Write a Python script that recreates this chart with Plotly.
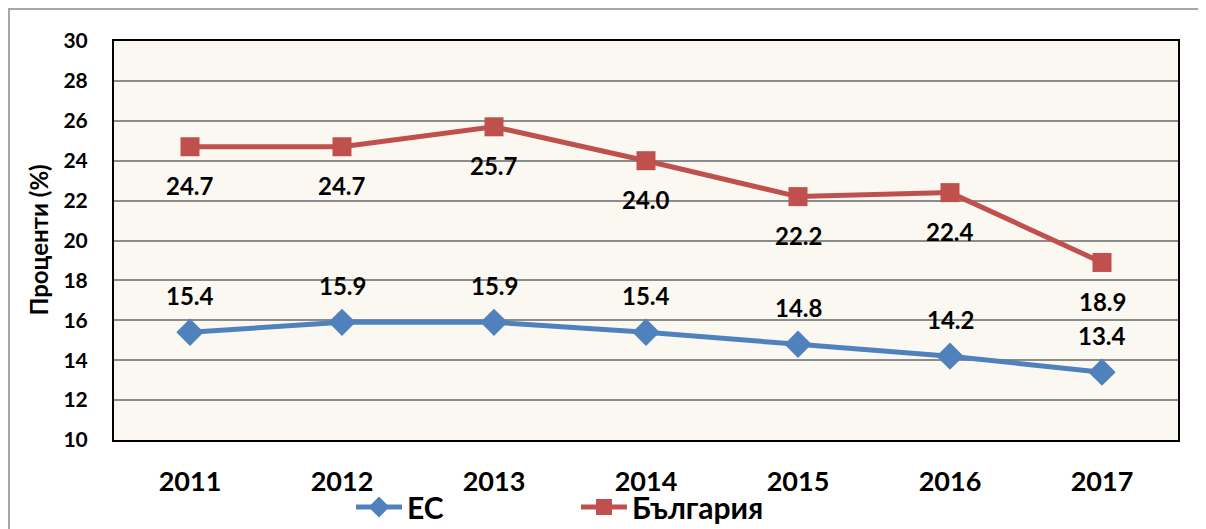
import plotly.graph_objects as go

years = ["2011", "2012", "2013", "2014", "2015", "2016", "2017"]
eu_values = [15.4, 15.9, 15.9, 15.4, 14.8, 14.2, 13.4]
bg_values = [24.7, 24.7, 25.7, 24.0, 22.2, 22.4, 18.9]
eu_name = "ЕС"
bg_name = "България"
y_title = "Проценти (%)"

FONT = "Lato"
RED = "#C0504D"
BLUE = "#4F81BD"

fig = go.Figure()
fig.add_trace(go.Scatter(
    x=years, y=eu_values, name=eu_name, mode="lines+markers",
    line=dict(color=BLUE, width=5),
    marker=dict(symbol="diamond", size=21, color=BLUE),
))
fig.add_trace(go.Scatter(
    x=years, y=bg_values, name=bg_name, mode="lines+markers",
    line=dict(color=RED, width=5),
    marker=dict(symbol="square", size=19, color=RED),
))

annotations = []
for i, v in enumerate(eu_values):
    annotations.append(dict(x=i, y=v, xref="x", yref="y", text=f"{v:.1f}", showarrow=False,
                            yshift=37, font=dict(family=FONT, size=24, color="black", weight="bold")))
for i, v in enumerate(bg_values):
    annotations.append(dict(x=i, y=v, xref="x", yref="y", text=f"{v:.1f}", showarrow=False,
                            yshift=-39, font=dict(family=FONT, size=24, color="black", weight="bold")))
annotations.append(dict(xref="paper", yref="paper", x=-0.0714, y=0.5, text=y_title,
                        textangle=-90, showarrow=False, xanchor="center", yanchor="middle",
                        font=dict(family=FONT, size=24, color="black", weight="bold")))

fig.update_layout(
    width=1198, height=521,
    margin=dict(l=106, r=28, t=33, b=89, autoexpand=False),
    paper_bgcolor="white",
    plot_bgcolor="#FBF8F2",
    font=dict(family=FONT, color="black"),
    showlegend=True,
    legend=dict(orientation="h", xref="container", yref="container",
                x=0.2863, y=0.0422, xanchor="left", yanchor="middle",
                entrywidth=164, entrywidthmode="pixels",
                font=dict(family=FONT, size=30, color="black", weight="bold"),
                bgcolor="rgba(0,0,0,0)", itemwidth=46, tracegroupgap=0),
    annotations=annotations,
    shapes=[dict(type="rect", xref="paper", yref="paper",
                 x0=-0.0987, x1=1.1, y0=-0.4, y1=1.0802,
                 line=dict(color="#A6A6A6", width=2), layer="below")],
)
fig.update_xaxes(
    type="category", range=[-0.5, 6.5], automargin=False,
    showgrid=False, showline=True, linecolor="black", linewidth=2, mirror=True,
    ticks="", ticklabelstandoff=17,
    tickfont=dict(family=FONT, size=27, color="black", weight="bold"),
)
fig.update_yaxes(
    range=[10, 30], dtick=2, tick0=10, automargin=False,
    showgrid=True, gridcolor="#8C8C8C", gridwidth=2,
    showline=True, linecolor="black", linewidth=2, mirror=True,
    ticks="", ticklabelstandoff=20, zeroline=False,
    tickfont=dict(family=FONT, size=21, color="black", weight="bold"),
)

fig.write_html("out.html")
